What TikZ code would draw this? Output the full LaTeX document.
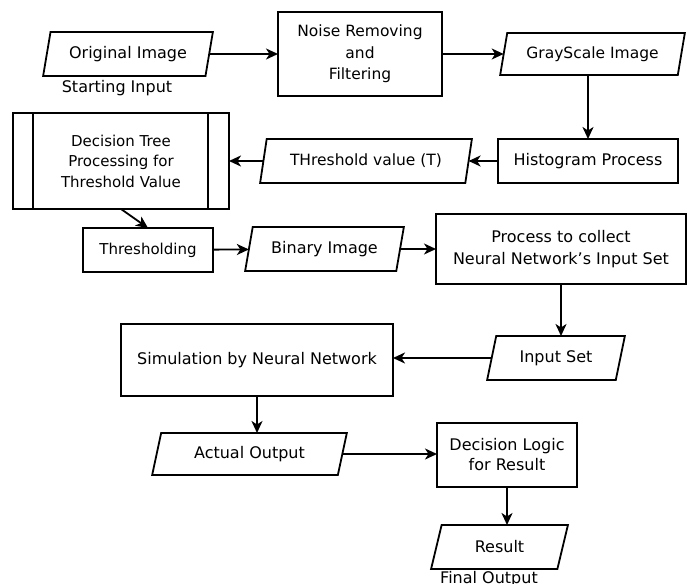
\documentclass[tikz,border=0pt]{standalone}
\usepackage{fontspec}
\setmainfont{DejaVu Sans}
\usetikzlibrary{shapes.geometric,arrows.meta}
\tikzset{
  box/.style={draw, line width=1.8pt, rectangle, align=center, inner sep=0pt, outer sep=0pt, font=\fontsize{16}{21}\selectfont},
  para/.style={draw, line width=1.8pt, trapezium, trapezium left angle=70, trapezium right angle=110, trapezium stretches=true, inner sep=0pt, outer sep=0pt, align=center, font=\fontsize{16}{21}\selectfont},
  lbl/.style={inner sep=0pt, anchor=base, font=\fontsize{16}{21}\selectfont},
  arr/.style={line width=1.8pt, -{Stealth[length=12pt,width=11pt,inset=3.5pt]}}
}
\begin{document}
\begin{tikzpicture}[x=1pt,y=-1pt]
\useasboundingbox[fill=white] (0,0) rectangle (687,583);
% nodes
\node[para, minimum width=170pt, minimum height=44pt] (orig) at (128,54) {Original Image};
\node[lbl] (startlbl) at (117,93) {Starting Input};
\node[box, minimum width=164pt, minimum height=84pt, font=\fontsize{15.5}{21.5}\selectfont] (noise) at (360,54) {Noise Removing\\and\\Filtering};
\node[para, minimum width=185pt, minimum height=42pt, font=\fontsize{15.5}{21}\selectfont] (gray) at (592.5,54) {GrayScale Image};
\node[box, minimum width=180pt, minimum height=44pt] (hist) at (588,161) {Histogram Process};
\node[para, minimum width=212pt, minimum height=44pt, font=\fontsize{15.5}{21}\selectfont] (thr) at (366,161) {THreshold value (T)};
\node[box, minimum width=216pt, minimum height=96pt, font=\fontsize{15}{20.5}\selectfont] (dtree) at (121,161) {Decision Tree\\Processing for\\Threshold Value};
\draw[line width=1.8pt] ([xshift=20pt]dtree.north west) -- ([xshift=20pt]dtree.south west);
\draw[line width=1.8pt] ([xshift=-21pt]dtree.north east) -- ([xshift=-21pt]dtree.south east);
\node[box, minimum width=130pt, minimum height=44pt, font=\fontsize{15}{20}\selectfont] (thrs) at (148,250) {Thresholding};
\node[para, minimum width=159pt, minimum height=44pt] (bin) at (324.5,249) {Binary Image};
\node[box, minimum width=250pt, minimum height=70pt, font=\fontsize{16}{22}\selectfont] (proc) at (561,249) {Process to collect\\Neural Network's Input Set};
\node[para, minimum width=138pt, minimum height=44pt] (inp) at (556,358) {Input Set};
\node[box, minimum width=272pt, minimum height=72pt] (sim) at (257,360) {Simulation by Neural Network};
\node[para, minimum width=195pt, minimum height=42pt] (act) at (249.5,454) {Actual Output};
\node[box, minimum width=140pt, minimum height=64pt, font=\fontsize{16}{20}\selectfont] (dlog) at (507,455) {Decision Logic\\for Result};
\node[para, minimum width=137pt, minimum height=44pt] (res) at (499.5,547) {Result};
\node[lbl] (finallbl) at (489,583.5) {Final Output};
% connectors
\draw[arr] (orig.east) -- (noise.west |- orig.east);
\draw[arr] (noise) -- (gray);
\draw[arr] (hist.north |- gray.south) -- (hist.north);
\draw[arr] (hist) -- (thr);
\draw[arr] (thr) -- (dtree);
\draw[arr] (dtree.south) -- (thrs.north);
\draw[arr] (thrs) -- (bin);
\draw[arr] (bin) -- (proc);
\draw[arr] (proc.south) -- (proc.south |- inp.north);
\draw[arr] (inp.west) -- (inp.west -| sim.east);
\draw[arr] (sim.south) -- (sim.south |- act.north);
\draw[arr] (act.east) -- (act.east -| dlog.west);
\draw[arr] (dlog.south) -- (dlog.south |- res.north);
\end{tikzpicture}
\end{document}
